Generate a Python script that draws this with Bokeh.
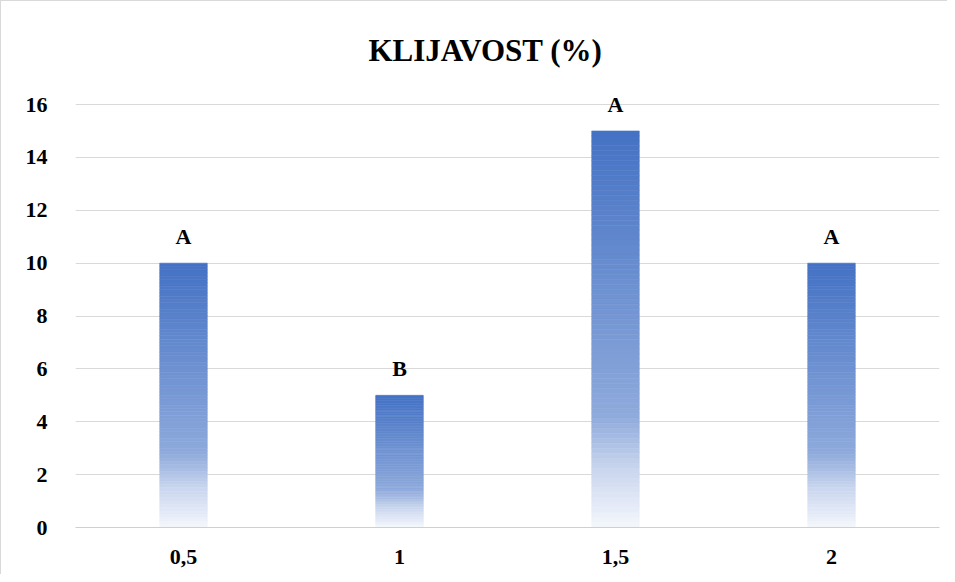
from bokeh.plotting import figure
from bokeh.models import FixedTicker, ColumnDataSource, Range1d
from bokeh.core.properties import value
from bokeh.embed import file_html
from bokeh.resources import INLINE

# ---- data ----
categories = ["0,5", "1", "1,5", "2"]
values = [10, 5, 15, 10]
letters = ["A", "B", "A", "A"]
y_ticks = [0, 2, 4, 6, 8, 10, 12, 14, 16]
title_text = "KLIJAVOST (%)"

FONT = "Liberation Serif"

p = figure(
    x_range=categories,
    y_range=Range1d(0, 16.72),
    width=947, height=574,
    output_backend="svg", toolbar_location=None,
    min_border_left=74, min_border_right=9,
    min_border_top=84, min_border_bottom=48,
)
p.styles = {"border-top": "1px solid #d9d9d9", "border-left": "1px solid #d9d9d9"}

p.title.text = title_text
p.title.text_font = FONT
p.title.text_font_style = "bold"
p.title.text_font_size = "31px"
p.title.align = "left"
p.title.offset = 293
p.title.standoff = 36
p.title.text_color = "#000000"

# gradient colour stops (fraction from bar top -> colour)
stops = [(0.0, (68, 114, 196)), (0.72, (143, 170, 220)),
         (0.85, (201, 213, 238)), (1.0, (244, 247, 252))]

def grad(t):
    for (t0, c0), (t1, c1) in zip(stops[:-1], stops[1:]):
        if t <= t1:
            f = (t - t0) / (t1 - t0)
            return "#%02x%02x%02x" % tuple(int(round(a + (b - a) * f)) for a, b in zip(c0, c1))
    return "#%02x%02x%02x" % stops[-1][1]

N = 80
xs, bots, tops, cols = [], [], [], []
for cat, v in zip(categories, values):
    for i in range(N):
        xs.append(cat)
        tops.append(v * (1 - i / N))
        bots.append(v * (1 - (i + 1) / N))
        cols.append(grad((i + 0.5) / N))
src = ColumnDataSource(dict(x=xs, bottom=bots, top=tops, color=cols))
p.vbar(x="x", bottom="bottom", top="top", width=0.22, source=src,
       fill_color="color", line_color="color", line_width=0.6)

lab = ColumnDataSource(dict(x=categories, y=values, t=letters))
p.text(x="x", y="y", text="t", source=lab, text_align="center",
       text_baseline="bottom", y_offset=-14,
       text_font=value(FONT), text_font_style="bold",
       text_font_size="22px", text_color="#000000")

p.outline_line_color = None
p.xgrid.grid_line_color = None
p.ygrid.grid_line_color = "#d9d9d9"
p.ygrid.grid_line_width = 1

p.yaxis.ticker = FixedTicker(ticks=y_ticks)
for ax in (p.xaxis[0], p.yaxis[0]):
    ax.major_tick_line_color = None
    ax.minor_tick_line_color = None
    ax.major_label_text_font = FONT
    ax.major_label_text_font_style = "bold"
    ax.major_label_text_font_size = "22px"
    ax.major_label_text_color = "#000000"
p.yaxis.axis_line_color = None
p.xaxis.axis_line_color = "#cfcfcf"
p.yaxis.major_label_standoff = 22
p.xaxis.major_label_standoff = 16

open("out.html", "w").write(file_html(p, INLINE))
